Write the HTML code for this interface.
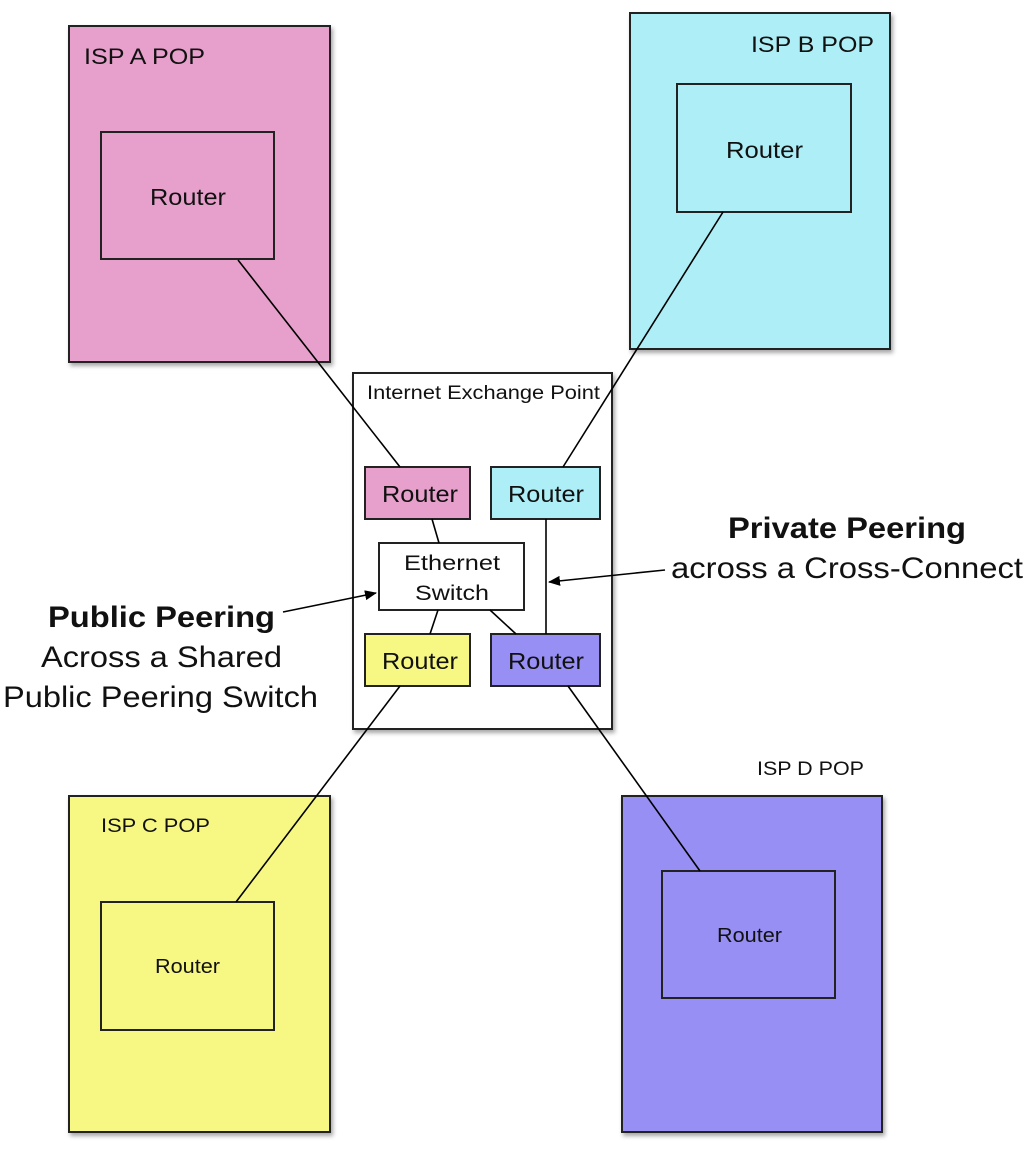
<!DOCTYPE html>
<html><head><style>body{margin:0;background:#fff} svg text{font-family:"Liberation Sans",Arial,sans-serif}</style></head><body>
<svg width="1028" height="1160" xmlns="http://www.w3.org/2000/svg">
<defs>
<filter id="s" x="-5%" y="-5%" width="115%" height="115%"><feDropShadow dx="2" dy="3" stdDeviation="2" flood-color="#000" flood-opacity="0.35"/></filter>
<marker id="a" markerWidth="12" markerHeight="10" refX="11" refY="5" orient="auto" markerUnits="userSpaceOnUse"><path d="M0,0 L12,5 L0,10 Z" fill="#000"/></marker>
</defs>
<g stroke="#222" stroke-width="2">
<rect x="69" y="26" width="261" height="336" fill="#e6a0cb" filter="url(#s)"/>
<rect x="101" y="132" width="173" height="127" fill="#e6a0cb"/>
<rect x="630" y="13" width="260" height="336" fill="#aeeef6" filter="url(#s)"/>
<rect x="677" y="84" width="174" height="128" fill="#aeeef6"/>
<rect x="69" y="796" width="261" height="336" fill="#f7f784" filter="url(#s)"/>
<rect x="101" y="902" width="173" height="128" fill="#f7f784"/>
<rect x="622" y="796" width="260" height="336" fill="#978ff4" filter="url(#s)"/>
<rect x="662" y="871" width="173" height="127" fill="#978ff4"/>
<rect x="353" y="373" width="259" height="356" fill="#fff" filter="url(#s)"/>
<rect x="365" y="467" width="105" height="52" fill="#e6a0cb"/>
<rect x="491" y="467" width="109" height="52" fill="#aeeef6"/>
<rect x="379" y="543" width="145" height="67" fill="#fff"/>
<rect x="365" y="634" width="105" height="52" fill="#f7f784"/>
<rect x="491" y="634" width="109" height="52" fill="#978ff4"/>
</g>
<g stroke="#000" stroke-width="1.6" fill="none">
<line x1="238" y1="260" x2="400" y2="467"/>
<line x1="723" y1="212" x2="563" y2="467"/>
<line x1="400" y1="686" x2="236" y2="902"/>
<line x1="568" y1="686" x2="700" y2="871"/>
<line x1="432" y1="519" x2="439" y2="543"/>
<line x1="438" y1="610" x2="430" y2="634"/>
<line x1="490" y1="610" x2="516" y2="634"/>
<line x1="546" y1="519" x2="546" y2="634"/>
<line x1="283" y1="612" x2="376" y2="593" marker-end="url(#a)"/>
<line x1="665" y1="570" x2="549" y2="582" marker-end="url(#a)"/>
</g>
<g fill="#111" lengthAdjust="spacingAndGlyphs">
<text x="84" y="64" font-size="22" textLength="121" lengthAdjust="spacingAndGlyphs">ISP A POP</text>
<text x="150" y="205" font-size="23" textLength="76" lengthAdjust="spacingAndGlyphs">Router</text>
<text x="751" y="52" font-size="22" textLength="123" lengthAdjust="spacingAndGlyphs">ISP B POP</text>
<text x="726" y="158" font-size="23" textLength="77" lengthAdjust="spacingAndGlyphs">Router</text>
<text x="101" y="832" font-size="19" textLength="109" lengthAdjust="spacingAndGlyphs">ISP C POP</text>
<text x="155" y="973" font-size="20" textLength="65" lengthAdjust="spacingAndGlyphs">Router</text>
<text x="757" y="775" font-size="19" textLength="107" lengthAdjust="spacingAndGlyphs">ISP D POP</text>
<text x="717" y="942" font-size="20" textLength="65" lengthAdjust="spacingAndGlyphs">Router</text>
<text x="367" y="399" font-size="19" textLength="233" lengthAdjust="spacingAndGlyphs">Internet Exchange Point</text>
<text x="382" y="502" font-size="23" textLength="76" lengthAdjust="spacingAndGlyphs">Router</text>
<text x="508" y="502" font-size="23" textLength="76" lengthAdjust="spacingAndGlyphs">Router</text>
<text x="404" y="570" font-size="21" textLength="96" lengthAdjust="spacingAndGlyphs">Ethernet</text>
<text x="415" y="600" font-size="21" textLength="74" lengthAdjust="spacingAndGlyphs">Switch</text>
<text x="382" y="669" font-size="23" textLength="76" lengthAdjust="spacingAndGlyphs">Router</text>
<text x="508" y="669" font-size="23" textLength="76" lengthAdjust="spacingAndGlyphs">Router</text>
<text x="48" y="627" font-size="30" font-weight="bold" textLength="227" lengthAdjust="spacingAndGlyphs">Public Peering</text>
<text x="41" y="667" font-size="30" textLength="241" lengthAdjust="spacingAndGlyphs">Across a Shared</text>
<text x="3" y="707" font-size="30" textLength="315" lengthAdjust="spacingAndGlyphs">Public Peering Switch</text>
<text x="728" y="538" font-size="30" font-weight="bold" textLength="238" lengthAdjust="spacingAndGlyphs">Private Peering</text>
<text x="671" y="578" font-size="30" textLength="352" lengthAdjust="spacingAndGlyphs">across a Cross-Connect</text>
</g>
</svg>
</body></html>
